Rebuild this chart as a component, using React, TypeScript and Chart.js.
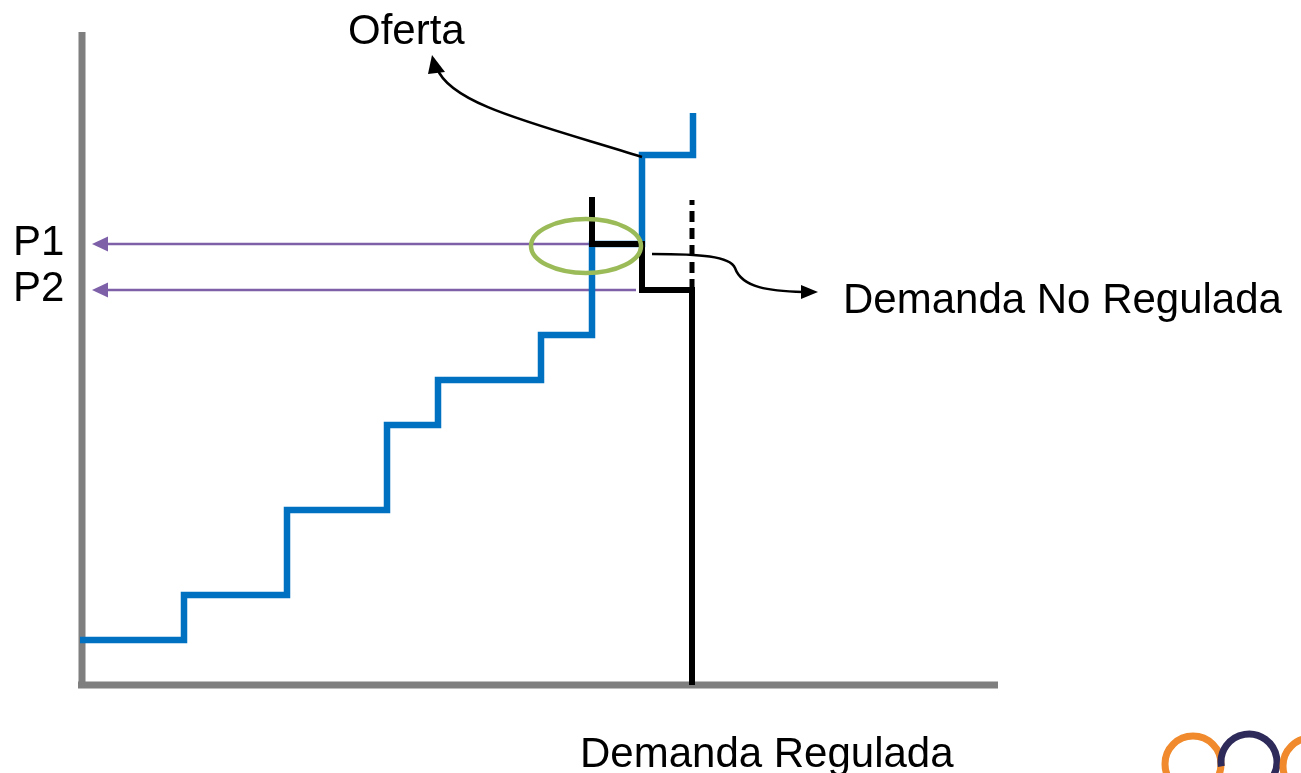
import { useEffect, useRef } from "react";
import { Chart, registerables } from "chart.js";
Chart.register(...registerables);

// Quantity / price values (arbitrary schematic units)
const supplyQ = [0, 104, 207, 307, 358, 461, 512, 562, 613];
const supplyP = [45, 90, 175, 260, 305, 350, 441, 530, 572];
const demandQ = [512, 562, 612, 612];
const demandP = [488, 441, 395, 0];
const dashedQ = [612, 612];
const dashedP = [395, 485];
const priceLabels = ["P1", "P2"];
const priceValues = [441, 395];
const priceArrowFromQ = [510, 556];
const Q_MAX = 918;
const P_MAX = 653;

const FONT = '42px "Liberation Sans", Arial, sans-serif';

const overlay = {
  id: "overlay",
  beforeDatasetsDraw(chart: any) {
    const { ctx, scales } = chart;
    const x = scales.x, y = scales.y;
    ctx.save();
    // axes
    ctx.strokeStyle = "#7f7f7f";
    ctx.lineWidth = 7;
    ctx.lineCap = "butt";
    ctx.beginPath();
    ctx.moveTo(x.getPixelForValue(2), y.getPixelForValue(P_MAX));
    ctx.lineTo(x.getPixelForValue(2), y.getPixelForValue(0) + 3.5);
    ctx.moveTo(x.getPixelForValue(-2), y.getPixelForValue(0));
    ctx.lineTo(x.getPixelForValue(Q_MAX), y.getPixelForValue(0));
    ctx.stroke();
    // price arrows
    ctx.strokeStyle = "#7d60a8";
    ctx.fillStyle = "#7d60a8";
    ctx.lineWidth = 2.5;
    priceValues.forEach((p, i) => {
      const py = y.getPixelForValue(p);
      const tip = x.getPixelForValue(12);
      ctx.beginPath();
      ctx.moveTo(x.getPixelForValue(priceArrowFromQ[i]), py);
      ctx.lineTo(tip + 10, py);
      ctx.stroke();
      ctx.beginPath();
      ctx.moveTo(tip, py);
      ctx.lineTo(tip + 16, py - 7.5);
      ctx.lineTo(tip + 16, py + 7.5);
      ctx.closePath();
      ctx.fill();
    });
    ctx.restore();
  },
  afterDatasetsDraw(chart: any) {
    const { ctx, scales } = chart;
    const x = scales.x, y = scales.y;
    ctx.save();
    // green ellipse
    ctx.strokeStyle = "#9bbb59";
    ctx.lineWidth = 4.5;
    ctx.beginPath();
    ctx.ellipse(x.getPixelForValue(506), y.getPixelForValue(439), 55, 27, 0, 0, Math.PI * 2);
    ctx.stroke();

    // Oferta curved arrow
    ctx.strokeStyle = "#000";
    ctx.fillStyle = "#000";
    ctx.lineWidth = 2.5;
    const sx = x.getPixelForValue(562), sy = y.getPixelForValue(528);
    ctx.beginPath();
    ctx.moveTo(sx, sy);
    ctx.bezierCurveTo(540, 125, 450, 105, 437, 68);
    ctx.stroke();
    ctx.beginPath();
    ctx.moveTo(432, 55);
    ctx.lineTo(445, 72);
    ctx.lineTo(428, 74);
    ctx.closePath();
    ctx.fill();

    // Demanda No Regulada arrow
    const dx = x.getPixelForValue(572), dy = y.getPixelForValue(431);
    ctx.beginPath();
    ctx.moveTo(dx, dy);
    ctx.bezierCurveTo(700, 254, 730, 256, 735, 268);
    ctx.bezierCurveTo(742, 288, 770, 291, 803, 292);
    ctx.stroke();
    ctx.beginPath();
    ctx.moveTo(818, 292);
    ctx.lineTo(801, 285);
    ctx.lineTo(801, 299);
    ctx.closePath();
    ctx.fill();

    // text
    ctx.font = FONT;
    ctx.fillStyle = "#000";
    ctx.textBaseline = "alphabetic";
    ctx.textAlign = "left";
    ctx.fillText("Oferta", 348, 44);
    priceValues.forEach((p, i) => {
      ctx.fillText(priceLabels[i], 13, y.getPixelForValue(p) + 11);
    });
    ctx.fillText("Demanda No Regulada", 843, 313);
    ctx.fillText("Demanda Regulada", 580, 767);

    // logo
    ctx.lineWidth = 7;
    ctx.strokeStyle = "#f08a2c";
    ctx.beginPath();
    ctx.arc(1193, 764, 28, 0, Math.PI * 2);
    ctx.stroke();
    ctx.strokeStyle = "#2e2a5a";
    ctx.beginPath();
    ctx.arc(1249, 762, 28, Math.PI * 0.95, Math.PI * 2.15);
    ctx.stroke();
    ctx.strokeStyle = "#f08a2c";
    ctx.beginPath();
    ctx.arc(1311, 766, 28, 0, Math.PI * 2);
    ctx.stroke();
    ctx.restore();
  },
};

export default function App() {
  const ref = useRef<HTMLCanvasElement>(null);
  useEffect(() => {
    document.body.style.margin = "0";
    const chart = new Chart(ref.current!, {
      type: "line",
      data: {
        datasets: [
          {
            label: "Oferta",
            data: supplyQ.map((q, i) => ({ x: q, y: supplyP[i] })),
            borderColor: "#0070c0",
            borderWidth: 6.5,
            stepped: "before",
            pointRadius: 0,
            fill: false,
            order: 3,
          },
          {
            label: "Demanda",
            data: demandQ.map((q, i) => ({ x: q, y: demandP[i] })),
            borderColor: "#000",
            borderWidth: 6,
            stepped: "after",
            pointRadius: 0,
            fill: false,
            order: 1,
          },
          {
            label: "Demanda dashed",
            data: dashedQ.map((q, i) => ({ x: q, y: dashedP[i] })),
            borderColor: "#000",
            borderWidth: 5,
            borderDash: [11, 6],
            pointRadius: 0,
            fill: false,
            order: 2,
          },
        ],
      },
      options: {
        responsive: false,
        animation: false,
        devicePixelRatio: 1,
        layout: { padding: { left: 80, right: 303, top: 32, bottom: 88 } },
        plugins: { legend: { display: false }, tooltip: { enabled: false } },
        scales: {
          x: { type: "linear", min: 0, max: Q_MAX, display: false },
          y: { type: "linear", min: 0, max: P_MAX, display: false },
        },
      },
      plugins: [overlay],
    });
    return () => chart.destroy();
  }, []);
  return (
    <div style={{ width: 1301, height: 773, background: "#fff" }}>
      <canvas ref={ref} width={1301} height={773} />
    </div>
  );
}
